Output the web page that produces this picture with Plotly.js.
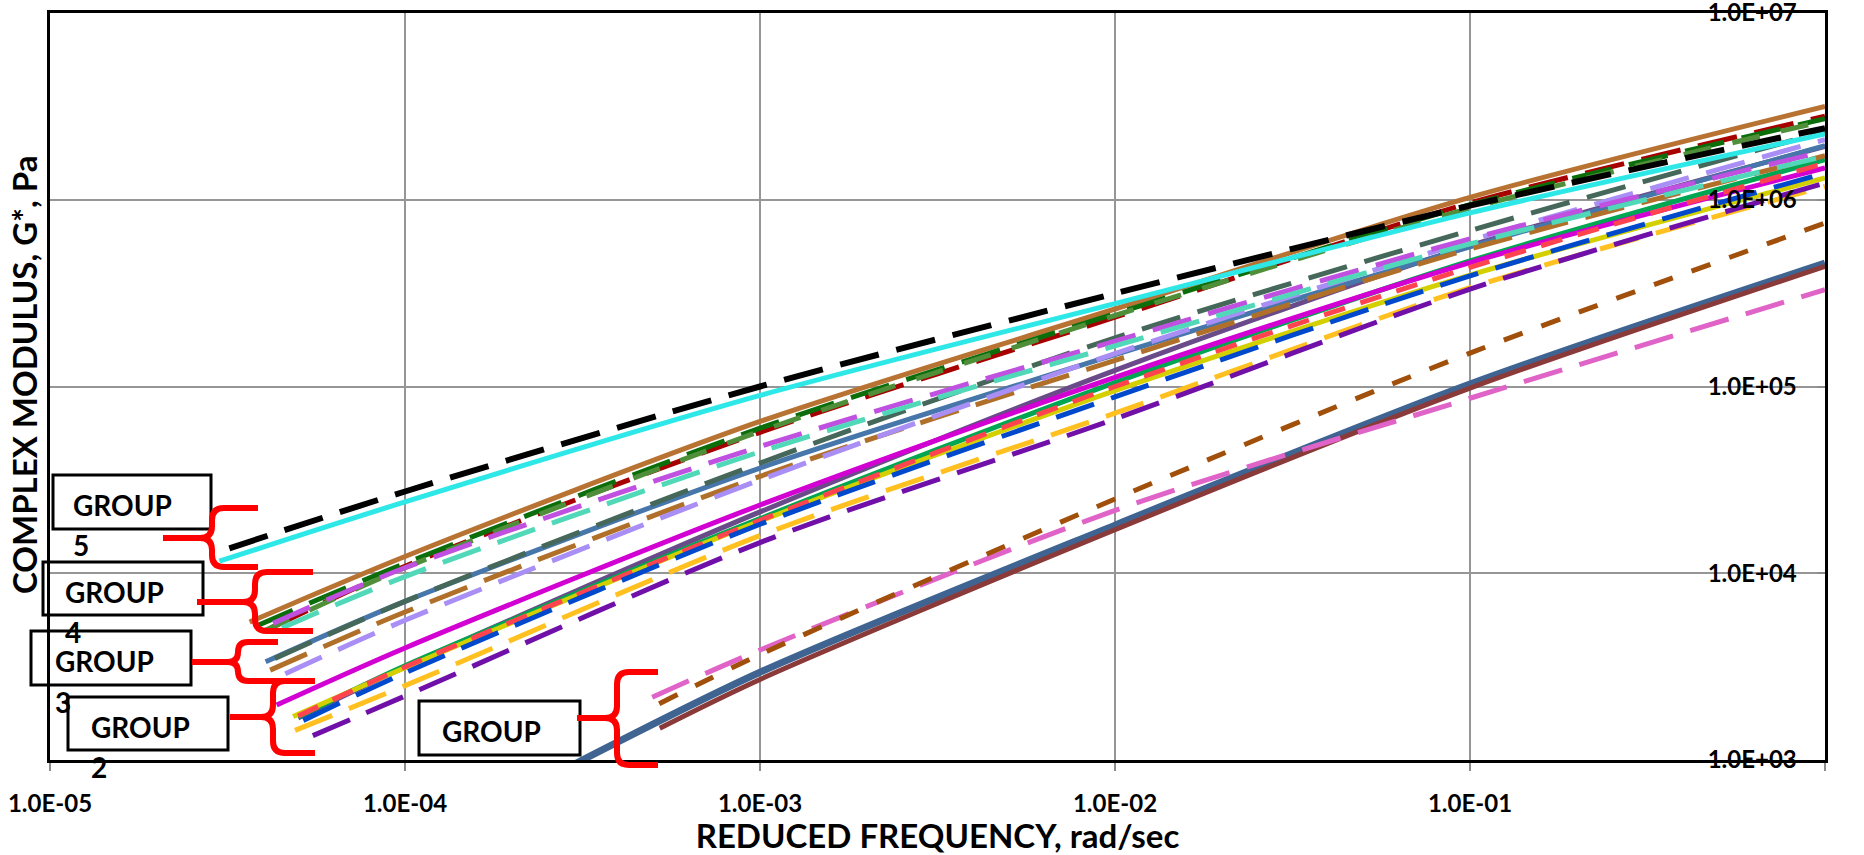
<!DOCTYPE html>
<html>
<head>
<meta charset="utf-8">
<script src="https://cdn.plot.ly/plotly-3.0.1.min.js"></script>
<style>
html,body{margin:0;padding:0;background:#ffffff;}
#chart{width:1864px;height:855px;}
</style>
</head>
<body>
<div id="chart"></div>
<script>
// ---------- tick labels ----------
const xTickVals = [1e-5, 1e-4, 1e-3, 1e-2, 1e-1, 1];
const xTickText = ["1.0E-05", "1.0E-04", "1.0E-03", "1.0E-02", "1.0E-01", "1.0E+00"];
const yTickVals = [1e3, 1e4, 1e5, 1e6, 1e7];
const yTickText = ["1.0E+03", "1.0E+04", "1.0E+05", "1.0E+06", "1.0E+07"];

// ---------- GROUP 5 ----------
const g5BlackX = [3.2e-5, 1e-4, 1e-3, 1e-2, 1e-1, 1];
const g5BlackY = [13600, 27400, 100000, 315000, 930000, 2420000];
const g5CyanX  = [3.0e-5, 1e-4, 1e-3, 1e-2, 1e-1, 1];
const g5CyanY  = [11600, 24100, 89600, 278000, 851000, 2250000];

// ---------- GROUP 4 ----------
const g4BrownX     = [3.65e-5, 1e-4, 1e-3, 1e-2, 1e-1, 1];
const g4BrownY     = [5480, 12300, 65000, 260000, 1030000, 3160000];
const g4DarkRedX   = [4.2e-5, 1e-4, 1e-3, 1e-2, 1e-1, 1];
const g4DarkRedY   = [5100, 10900, 56800, 235000, 960000, 2800000];
const g4DarkGreenX = [3.8e-5, 1e-4, 1e-3, 1e-2, 1e-1, 1];
const g4DarkGreenY = [5200, 11300, 59800, 245000, 940000, 2720000];
const g4GreenX     = [4.0e-5, 1e-4, 1e-3, 1e-2, 1e-1, 1];
const g4GreenY     = [4900, 10700, 57500, 240000, 900000, 2650000];
const g4OrchidX    = [4.25e-5, 1e-4, 1e-3, 1e-2, 1e-1, 1];
const g4OrchidY    = [5400, 10700, 47700, 175000, 617000, 1820000];
const g4TurqX      = [4.5e-5, 1e-4, 1e-3, 1e-2, 1e-1, 1];
const g4TurqY      = [5100, 9600, 44700, 165000, 580000, 1710000];

// ---------- GROUP 3 ----------
const g3SteelX     = [4.05e-5, 1e-4, 1e-3, 1e-2, 1e-1, 1];
const g3SteelY     = [3360, 7070, 36600, 148000, 560000, 1950000];
const g3SlateX     = [4.3e-5, 1e-4, 1e-3, 1e-2, 1e-1, 1];
const g3SlateY     = [3500, 7070, 38900, 182000, 684000, 2320000];
const g3BrownX     = [4.17e-5, 1e-4, 1e-3, 1e-2, 1e-1, 1];
const g3BrownY     = [3030, 6200, 33000, 138000, 545000, 1720000];
const g3LavenderX  = [4.6e-5, 1e-4, 1e-3, 1e-2, 1e-1, 1];
const g3LavenderY  = [2900, 5600, 31600, 150000, 604000, 2100000];

// ---------- GROUP 2 ----------
const g2DarkPurpleX = [5.0e-5, 1e-4, 1e-3, 1e-2, 1e-1, 1];
const g2DarkPurpleY = [1680, 3150, 21300, 122000, 567000, 1930000];
const g2MagentaX    = [4.35e-5, 1e-4, 1e-3, 1e-2, 1e-1, 1];
const g2MagentaY    = [1970, 3980, 23200, 112000, 461000, 1480000];
const g2GreenX      = [5.0e-5, 1e-4, 1e-3, 1e-2, 1e-1, 1];
const g2GreenY      = [1700, 3200, 19600, 105000, 470000, 1640000];
const g2YellowX     = [4.84e-5, 1e-4, 1e-3, 1e-2, 1e-1, 1];
const g2YellowY     = [1710, 3120, 19000, 95000, 395000, 1310000];
const g2RedX        = [5.0e-5, 1e-4, 1e-3, 1e-2, 1e-1, 1];
const g2RedY        = [1720, 3150, 19200, 100000, 434000, 1570000];
const g2BlueX       = [5.17e-5, 1e-4, 1e-3, 1e-2, 1e-1, 1];
const g2BlueY       = [1630, 2930, 18300, 88000, 391000, 1390000];
const g2GoldX       = [4.9e-5, 1e-4, 1e-3, 1e-2, 1e-1, 1];
const g2GoldY       = [1440, 2500, 15900, 72000, 338000, 1180000];
const g2PurpleX     = [5.5e-5, 1e-4, 1e-3, 1e-2, 1e-1, 1];
const g2PurpleY     = [1350, 2200, 14600, 67000, 332000, 1230000];

// ---------- GROUP 1 ----------
const g1SteelX   = [3.0e-4, 1e-3, 1e-2, 1e-1, 1];
const g1SteelY   = [950, 2950, 18100, 103000, 458000];
const g1DarkRedX = [5.22e-4, 1e-3, 1e-2, 1e-1, 1];
const g1DarkRedY = [1480, 2700, 17100, 98000, 440000];
const g1BrownX   = [5.2e-4, 1e-3, 1e-2, 1e-1, 1];
const g1BrownY   = [2000, 3670, 25000, 151000, 750000];
const g1PinkX    = [4.97e-4, 1e-3, 1e-2, 1e-1, 1];
const g1PinkY    = [2170, 3880, 21700, 86500, 330000];

// ---------- styles (draw order bottom -> top) ----------
const LONG = "40px,18px";
const MED = "22px,16px";
const SHORT = "20px,20px";
const series = [
  [g1SteelX, g1SteelY, "#3F6491", 7, "solid"],
  [g1DarkRedX, g1DarkRedY, "#8B3A3A", 5, "solid"],
  [g1PinkX, g1PinkY, "#E064C8", 5, LONG],
  [g1BrownX, g1BrownY, "#A0500A", 5, SHORT],
  [g2DarkPurpleX, g2DarkPurpleY, "#6A4B8A", 5, "solid"],
  [g2GreenX, g2GreenY, "#00A651", 5, "solid"],
  [g2YellowX, g2YellowY, "#D4D000", 5, "solid"],
  [g2MagentaX, g2MagentaY, "#D200D2", 5, "solid"],
  [g2RedX, g2RedY, "#FF4450", 5, MED],
  [g2BlueX, g2BlueY, "#0049CC", 5, LONG],
  [g2GoldX, g2GoldY, "#FFC020", 5, LONG],
  [g2PurpleX, g2PurpleY, "#7010A8", 5, LONG],
  [g3SteelX, g3SteelY, "#4777AA", 5, "solid"],
  [g3SlateX, g3SlateY, "#45685A", 5, LONG],
  [g3BrownX, g3BrownY, "#B0702A", 5, LONG],
  [g3LavenderX, g3LavenderY, "#A88EF5", 5, LONG],
  [g4BrownX, g4BrownY, "#B87333", 5, "solid"],
  [g4DarkRedX, g4DarkRedY, "#A80000", 5, LONG],
  [g4DarkGreenX, g4DarkGreenY, "#0B6E0B", 5, LONG],
  [g4GreenX, g4GreenY, "#4F8F3A", 5, "28px,22px"],
  [g4OrchidX, g4OrchidY, "#C050E0", 5, LONG],
  [g4TurqX, g4TurqY, "#50D8B8", 5, LONG],
  [g5CyanX, g5CyanY, "#2EE8E8", 5, "solid"],
  [g5BlackX, g5BlackY, "#000000", 6, LONG]
];

const traces = series.map(s => ({
  x: s[0], y: s[1], type: "scatter", mode: "lines",
  line: {color: s[2], width: s[3], dash: s[4], shape: "spline", smoothing: 0.8},
  hoverinfo: "skip", showlegend: false
}));

// ---------- layout helpers (pixel -> paper) ----------
const L = 50, R = 1825, T = 13, B = 760;
const W = R - L, H = B - T;
const px = x => (x - L) / W;
const py = y => (B - y) / H;
const pt = (x, y) => px(x).toFixed(5) + "," + py(y).toFixed(5);

function brace(sx, y1, y2, ym, axTop, axBot, tx, r) {
  return "M " + pt(axTop, y1) + " L " + pt(sx + r, y1) +
    " Q " + pt(sx, y1) + " " + pt(sx, y1 + r) +
    " L " + pt(sx, ym - r) + " Q " + pt(sx, ym) + " " + pt(sx - r, ym) +
    " L " + pt(tx, ym) +
    " M " + pt(sx - r, ym) + " Q " + pt(sx, ym) + " " + pt(sx, ym + r) +
    " L " + pt(sx, y2 - r) + " Q " + pt(sx, y2) + " " + pt(sx + r, y2) +
    " L " + pt(axBot, y2);
}
function box(x0, y0, x1, y1) {
  return {type: "rect", xref: "paper", yref: "paper",
    x0: px(x0), x1: px(x1), y0: py(y1), y1: py(y0),
    line: {color: "#000000", width: 3}, fillcolor: "rgba(0,0,0,0)"};
}
function bshape(path) {
  return {type: "path", xref: "paper", yref: "paper", path: path,
    line: {color: "#FF0000", width: 6}};
}
const FONT = "Lato, 'Open Sans', sans-serif";
const bold = t => "<b>" + t + "</b>";
function label(text, x, y, size) {
  return {xref: "paper", yref: "paper", x: px(x), y: py(y), xanchor: "left", yanchor: "middle",
    text: bold(text), showarrow: false, font: {family: FONT, size: size, color: "#000000"}};
}

const shapes = [
  box(53, 475, 211, 529), box(43, 562, 203, 615), box(31, 631, 191, 685),
  box(68, 697, 228, 750), box(419, 701, 580, 755),
  bshape(brace(212, 508, 567, 538, 258, 258, 163, 12)),
  bshape(brace(255, 572, 631, 602, 313, 313, 197, 12)),
  bshape(brace(238, 642, 681, 662, 278, 315, 192, 10)),
  bshape(brace(273, 681, 753, 717, 315, 315, 230, 12)),
  bshape(brace(617, 672, 765, 718, 658, 658, 577, 12))
];

const annotations = [
  label("GROUP", 71, 505, 28), label("5", 71, 545, 28),
  label("GROUP", 63, 592, 28), label("4", 63, 632, 28),
  label("GROUP", 53, 661, 28), label("3", 53, 702, 28),
  label("GROUP", 89, 727, 28), label("2", 89, 767, 28),
  label("GROUP", 440, 731, 28),
  {xref: "paper", yref: "paper", x: px(24), y: py(375), xanchor: "center", yanchor: "middle",
   text: bold("COMPLEX MODULUS, G*, Pa"), textangle: -90, showarrow: false,
   font: {family: FONT, size: 33, color: "#000000"}}
];

const layout = {
  width: 1864, height: 855,
  margin: {l: L, r: 1864 - R, t: T, b: 855 - B},
  paper_bgcolor: "#ffffff", plot_bgcolor: "#ffffff",
  font: {family: FONT, color: "#000000"},
  showlegend: false,
  xaxis: {
    type: "log", range: [-5, 0],
    tickvals: xTickVals, ticktext: xTickText.map(bold),
    tickfont: {family: FONT, size: 24, color: "#000000"},
    ticks: "outside", ticklen: 8, tickwidth: 2, tickcolor: "#8c8c8c",
    ticklabelstandoff: 12,
    showgrid: true, gridcolor: "#969696", gridwidth: 2,
    showline: true, linecolor: "#000000", linewidth: 3, mirror: true,
    zeroline: false,
    title: {text: bold("REDUCED FREQUENCY, rad/sec"), standoff: 10,
            font: {family: FONT, size: 33, color: "#000000"}}
  },
  yaxis: {
    type: "log", range: [3, 7], side: "right",
    tickvals: yTickVals, ticktext: yTickText.map(bold),
    ticklabelposition: "inside", ticklabeloverflow: "allow",
    tickfont: {family: FONT, size: 24, color: "#000000"},
    ticks: "inside", ticklen: 8, tickwidth: 2, tickcolor: "#8c8c8c",
    ticklabelstandoff: 22,
    showgrid: true, gridcolor: "#969696", gridwidth: 2,
    showline: true, linecolor: "#000000", linewidth: 3, mirror: true,
    zeroline: false
  },
  shapes: shapes,
  annotations: annotations
};

Plotly.newPlot("chart", traces, layout, {displayModeBar: false, staticPlot: true});
</script>
</body>
</html>
